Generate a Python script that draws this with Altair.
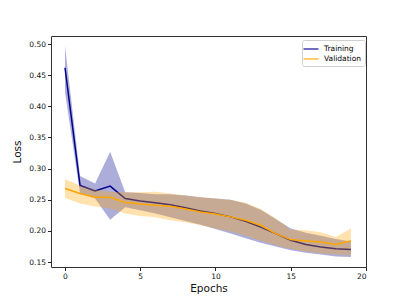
import altair as alt
import pandas as pd

epochs = list(range(20))
train_mean = [0.462, 0.273, 0.264, 0.272, 0.252, 0.248, 0.245, 0.242, 0.237, 0.232,
              0.228, 0.2225, 0.2155, 0.206, 0.1956, 0.185, 0.178, 0.174, 0.1715, 0.170]
train_upper = [0.497, 0.288, 0.276, 0.327, 0.262, 0.261, 0.259, 0.259, 0.257, 0.254,
               0.252, 0.250, 0.244, 0.234, 0.219, 0.204, 0.197, 0.192, 0.187, 0.183]
train_lower = [0.423, 0.260, 0.252, 0.218, 0.238, 0.233, 0.228, 0.222, 0.216, 0.210,
               0.203, 0.196, 0.188, 0.181, 0.175, 0.169, 0.165, 0.162, 0.159, 0.158]
val_mean = [0.268, 0.260, 0.254, 0.254, 0.2456, 0.243, 0.241, 0.2396, 0.2353, 0.2305,
            0.227, 0.2225, 0.217, 0.209, 0.1956, 0.186, 0.1838, 0.182, 0.178, 0.184]
val_upper = [0.283, 0.273, 0.266, 0.263, 0.262, 0.262, 0.263, 0.260, 0.257, 0.254,
             0.252, 0.250, 0.245, 0.235, 0.220, 0.202, 0.201, 0.198, 0.190, 0.2037]
val_lower = [0.253, 0.244, 0.239, 0.236, 0.228, 0.224, 0.222, 0.217, 0.214, 0.209,
             0.204, 0.199, 0.192, 0.184, 0.177, 0.171, 0.167, 0.164, 0.162, 0.161]

series = ["Training", "Validation"]
colors = ["#00008B", "#FFA500"]

train = pd.DataFrame({"epoch": epochs, "mean": train_mean, "lo": train_lower,
                      "hi": train_upper, "series": "Training"})
val = pd.DataFrame({"epoch": epochs, "mean": val_mean, "lo": val_lower,
                    "hi": val_upper, "series": "Validation"})

xscale = alt.Scale(domain=[-0.93, 20], nice=False, zero=False)
yscale = alt.Scale(domain=[0.142, 0.513], nice=False, zero=False)
xax = alt.Axis(title="Epochs", values=[0, 5, 10, 15, 20], format="d")
yax = alt.Axis(title="Loss", values=[0.15, 0.2, 0.25, 0.3, 0.35, 0.4, 0.45, 0.5], format=".2f")

color = alt.Color("series:N", scale=alt.Scale(domain=series, range=colors),
                  legend=alt.Legend(title=None, orient="none", legendX=251, legendY=4,
                                    symbolType="M-1.5,0H1.5", symbolSize=100,
                                    symbolStrokeWidth=1.5, symbolOpacity=0.75,
                                    labelFontSize=7.5, labelFont="DejaVu Sans",
                                    strokeColor="#d0d0d0", fillColor="white",
                                    padding=3, cornerRadius=2, rowPadding=0,
                                    labelOffset=7))

def band(df, c):
    return alt.Chart(df).mark_area(color=c, opacity=0.32).encode(
        x=alt.X("epoch:Q", scale=xscale, axis=xax),
        y=alt.Y("lo:Q", scale=yscale, axis=yax),
        y2="hi:Q")

def line(df):
    return alt.Chart(df).mark_line(strokeWidth=1.5).encode(
        x=alt.X("epoch:Q", scale=xscale, axis=xax),
        y=alt.Y("mean:Q", scale=yscale, axis=yax),
        color=color)

chart = alt.layer(
    band(train, "#00008B"), line(train), band(val, "#FFA500"), line(val)
).properties(
    width=315, height=231,
    autosize=alt.AutoSizeParams(type="none"),
    padding={"left": 43, "top": 28, "right": 33, "bottom": 30},
).configure_view(
    stroke="#333333", strokeWidth=1
).configure_axis(
    grid=False, domain=False, tickColor="#222222", tickSize=3.5,
    labelFont="DejaVu Sans", labelFontSize=7.5, labelColor="#111111",
    titleFont="DejaVu Sans", titleFontSize=10.5, titleFontWeight="normal",
    titleColor="#111111", labelPadding=2
).configure_axisX(titlePadding=3).configure_axisY(titlePadding=6)

chart.save("out.html", embed_options={"renderer": "svg", "actions": False})
